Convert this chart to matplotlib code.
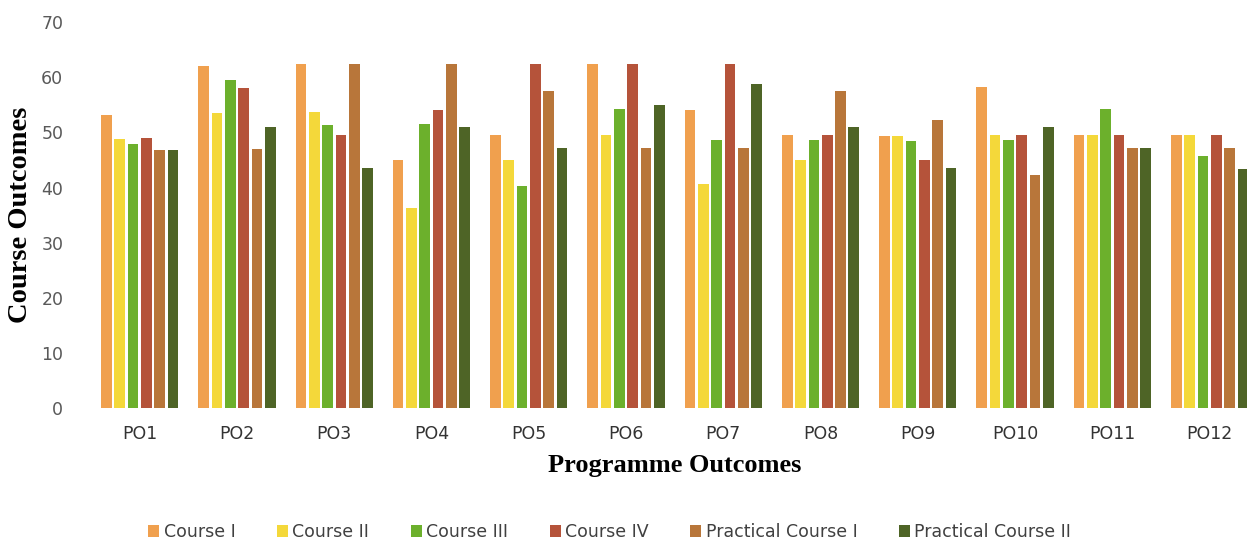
import numpy as np
import matplotlib
matplotlib.use("Agg")
import matplotlib.pyplot as plt

# Data
outcomes = ["PO1", "PO2", "PO3", "PO4", "PO5", "PO6",
            "PO7", "PO8", "PO9", "PO10", "PO11", "PO12"]

course_1 = [53.2, 62.0, 62.5, 45.0, 49.5, 62.5, 54.0, 49.5, 49.3, 58.2, 49.5, 49.5]
course_2 = [48.8, 53.5, 53.7, 36.3, 45.0, 49.5, 40.7, 45.0, 49.3, 49.5, 49.5, 49.5]
course_3 = [48.0, 59.5, 51.3, 51.5, 40.3, 54.3, 48.6, 48.6, 48.5, 48.6, 54.3, 45.7]
course_4 = [49.0, 58.0, 49.5, 54.0, 62.5, 62.5, 62.5, 49.5, 45.0, 49.5, 49.5, 49.5]
practical_1 = [46.8, 47.0, 62.5, 62.5, 57.5, 47.2, 47.2, 57.5, 52.3, 42.2, 47.2, 47.2]
practical_2 = [46.8, 51.0, 43.5, 51.0, 47.2, 55.0, 58.8, 51.0, 43.5, 51.0, 47.2, 43.3]

series_names = ["Course I", "Course II", "Course III", "Course IV",
                "Practical Course I", "Practical Course II"]
series_values = [course_1, course_2, course_3, course_4, practical_1, practical_2]
colors = ["#F0A04E", "#F4D83A", "#6CB02C", "#B5533A", "#B8763A", "#4E6426"]

fig = plt.figure(figsize=(12.47, 5.42), dpi=100)
ax = fig.add_axes([0.073, 0.247, 0.936, 0.712])

x = np.arange(len(outcomes))
pitch = 0.137
width = 0.11
for i, (name, vals, col) in enumerate(zip(series_names, series_values, colors)):
    offset = (i - 2.5) * pitch
    ax.bar(x + offset, vals, width, color=col, label=name)

ax.set_ylim(0, 70)
ax.set_xlim(-0.5, 11.5)
ax.set_yticks(range(0, 71, 10))
ax.set_xticks(x)
ax.set_xticklabels(outcomes)

for s in ax.spines.values():
    s.set_visible(False)
ax.tick_params(axis="both", length=0)
ax.tick_params(axis="y", labelsize=12.5, labelcolor="#595959", pad=20)
ax.tick_params(axis="x", labelsize=12.5, labelcolor="#333333", pad=12)

ax.set_xlabel("Programme Outcomes", fontsize=19, fontweight="bold",
              family="Liberation Serif", labelpad=8)
ax.set_ylabel("Course Outcomes", fontsize=20.5, fontweight="bold",
              family="Liberation Serif", labelpad=6)

fig.legend(loc="center", bbox_to_anchor=(0.489, 0.018), ncol=6, frameon=False,
           fontsize=12.5, handlelength=0.63, handleheight=0.63, handletextpad=0.25,
           columnspacing=2.4, labelcolor="#404040")

plt.savefig("out.png", dpi=100)
plt.close()
